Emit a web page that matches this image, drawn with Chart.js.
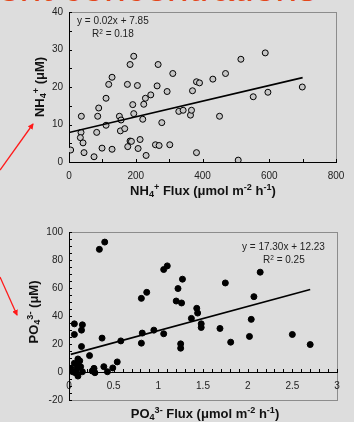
<!DOCTYPE html>
<html>
<head>
<meta charset="utf-8">
<script src="https://cdn.jsdelivr.net/npm/chart.js@4.4.0/dist/chart.umd.min.js"></script>
<style>
  html, body { margin: 0; padding: 0; background: #dddddd; }
  #wrap { position: relative; width: 354px; height: 422px; overflow: hidden;
          font-family: Arial, "Liberation Sans", sans-serif; }
  canvas { position: absolute; left: 0; }
  .txt { position: absolute; white-space: nowrap; color: #222; line-height: 1; }
  .eq { font-size: 10px; }
  .ttl { font-size: 13px; font-weight: bold; color: #111; }
  .ttl sub { font-size: 0.7em; vertical-align: -0.25em; }
  .ttl sup { font-size: 0.7em; vertical-align: 0.5em; }
  .eq sup { font-size: 0.65em; vertical-align: 0.5em; }
  .rot { transform: translate(-50%, -50%) rotate(-90deg); }
  .hc { transform: translate(-50%, -50%); }
  #title { position: absolute; left: -2px; top: -32px; font-size: 39px; line-height: 39px;
           color: #e4461a; white-space: nowrap; }
</style>
</head>
<body>
<div id="wrap">
  <div id="title">ent concentrations</div>

  <canvas id="nhChart" width="354" height="200" style="top:0"></canvas>
  <canvas id="poChart" width="354" height="212" style="top:210px"></canvas>

  <div class="txt eq" style="left:77px;top:16px">y = 0.02x + 7.85</div>
  <div class="txt eq" style="left:92px;top:29px">R<sup>2</sup> = 0.18</div>
  <div class="txt ttl hc" style="left:203px;top:191px">NH<sub>4</sub><sup>+</sup> Flux (&mu;mol m<sup>-2</sup> h<sup>-1</sup>)</div>
  <div class="txt ttl rot" style="left:40px;top:87px">NH<sub>4</sub><sup>+</sup> (&mu;M)</div>

  <div class="txt eq" style="left:242px;top:242px">y = 17.30x + 12.23</div>
  <div class="txt eq" style="left:263px;top:255px">R<sup>2</sup> = 0.25</div>
  <div class="txt ttl hc" style="left:205px;top:414px">PO<sub>4</sub><sup>3-</sup> Flux (&mu;mol m<sup>-2</sup> h<sup>-1</sup>)</div>
  <div class="txt ttl rot" style="left:34px;top:312px">PO<sub>4</sub><sup>3-</sup> (&mu;M)</div>

  <svg width="354" height="422" style="position:absolute;left:0;top:0">
    <defs>
      <marker id="ah" markerWidth="6" markerHeight="6" refX="5" refY="3" orient="auto" markerUnits="userSpaceOnUse">
        <path d="M0,0 L6,3 L0,6 z" fill="#ff1a1a"/>
      </marker>
    </defs>
    <line x1="0" y1="170" x2="33" y2="124" stroke="#ff1a1a" stroke-width="1.3" marker-end="url(#ah)"/>
    <line x1="0" y1="277" x2="17" y2="315" stroke="#ff1a1a" stroke-width="1.3" marker-end="url(#ah)"/>
  </svg>
</div>

<script>
// NH4+ panel: flux vs concentration
const nhFlux = [5, 37, 36, 34, 42, 45, 75, 83, 86, 89, 99, 111, 111, 119, 129, 129, 151, 156, 154, 167,
  175, 183, 194, 191, 194, 183, 187, 176, 205, 207, 213, 221, 224, 229, 231, 245, 259, 264, 267, 270,
  278, 294, 302, 311, 329, 342, 364, 367, 370, 382, 391, 382, 431, 451, 469, 507, 515, 552, 588, 596, 699];
const nhConc = [3.2, 12.2, 7.9, 6.5, 5.1, 2.5, 1.4, 7.9, 12.2, 14.4, 3.7, 9.8, 17.0, 20.7, 22.6, 3.4, 12.2, 11.2, 8.3, 8.9,
  20.7, 26.0, 28.2, 15.3, 12.9, 5.6, 5.5, 4.1, 20.4, 3.6, 6.0, 11.4, 15.4, 17.0, 1.75, 17.9, 4.6, 20.3, 26.0, 4.4,
  10.5, 18.8, 4.6, 23.6, 13.5, 13.8, 12.5, 13.8, 19.0, 21.4, 21.1, 2.5, 22.1, 12.2, 23.6, 0.5, 27.4, 17.4, 29.1, 18.6, 20.0];
const nhTrendX = [0, 700];
const nhTrendY = [7.85, 22.5];

// PO4 3- panel
const poFlux = [0.34, 0.40, 1.06, 1.10, 1.27, 1.22, 0.87, 0.81, 1.20, 1.26, 1.43, 1.44, 1.37, 1.48, 1.48, 1.69, 1.75, 2.07, 2.14, 2.04,
  2.02, 1.81, 1.25, 1.25, 1.06, 0.95, 0.82, 0.81, 2.50, 2.70, 0.58, 0.37, 0.06, 0.15, 0.14, 0.06, 0.14, 0.23, 0.10, 0.54,
  0.49, 0.39, 0.43, 0.28, 0.26, 0.29, 0.02, 0.04, 0.09, 0.10, 0.13, 0.07, 0.10, 0.15, 0.06, 0.12];
const poConc = [87.6, 92.8, 73.2, 75.8, 66.3, 59.6, 56.9, 52.6, 50.7, 49.3, 45.5, 42.1, 38.3, 34.4, 31.8, 31.1, 63.6, 53.8, 71.3, 37.6,
  25.4, 21.3, 20.1, 17.0, 27.3, 29.9, 27.8, 20.6, 26.8, 19.6, 22.2, 24.2, 34.4, 33.7, 29.9, 26.8, 18.2, 11.7, 9.3, 7.2,
  2.9, 3.8, 0.2, 2.6, 0.7, -0.5, 2.6, 0.2, 2.6, 4.5, 3.8, -0.5, -2.9, 0.2, 6.2, 8.0];
const poTrendX = [0.02, 2.7];
const poTrendY = [12.6, 58.9];

const FONT = 'Arial, "Liberation Sans", sans-serif';
Chart.defaults.font.family = FONT;
Chart.defaults.color = '#222';

const zip = (xs, ys) => xs.map((x, i) => ({ x, y: ys[i] }));

// gray frame on the plot area + short inward tick marks
const frameTicks = {
  id: 'frameTicks',
  beforeDraw(chart) {
    const { ctx, chartArea: a } = chart;
    ctx.save();
    ctx.strokeStyle = '#8c8c8c';
    ctx.lineWidth = 1;
    ctx.strokeRect(Math.round(a.left) + 0.5, Math.round(a.top) + 0.5,
      Math.round(a.right - a.left), Math.round(a.bottom - a.top));
    ctx.restore();
  },
  beforeDatasetsDraw(chart) {
    const { ctx, chartArea: a, scales: { x, y } } = chart;
    const pos = x.options.position;
    const y0 = typeof pos === 'object' ? Math.round(y.getPixelForValue(pos.y)) : Math.round(a.bottom);
    const x0 = Math.round(a.left);
    ctx.save();
    ctx.strokeStyle = '#000';
    ctx.lineWidth = 1;
    ctx.beginPath();
    x.ticks.forEach(t => {
      const px = Math.round(x.getPixelForValue(t.value)) + 0.5;
      ctx.moveTo(px, y0);
      ctx.lineTo(px, y0 - 3);
    });
    y.ticks.forEach(t => {
      const py = Math.round(y.getPixelForValue(t.value)) + 0.5;
      ctx.moveTo(x0, py);
      ctx.lineTo(x0 + 3, py);
    });
    ctx.stroke();
    ctx.restore();
  }
};

function makeChart(id, cfg) {
  const ctx = document.getElementById(id).getContext('2d');
  return new Chart(ctx, {
    type: 'scatter',
    data: {
      datasets: [
        {
          type: 'line',
          data: zip(cfg.trendX, cfg.trendY),
          borderColor: '#000',
          borderWidth: 1.6,
          pointRadius: 0,
          fill: false,
        },
        {
          data: zip(cfg.xs, cfg.ys),
          pointRadius: 3,
          pointBorderWidth: 1,
          pointBorderColor: '#000',
          pointBackgroundColor: cfg.pointFill,
        },
      ],
    },
    options: {
      responsive: false,
      animation: false,
      events: [],
      layout: { padding: cfg.padding },
      plugins: { legend: { display: false }, tooltip: { enabled: false } },
      scales: {
        x: {
          type: 'linear',
          position: cfg.xPosition,
          min: cfg.xMin, max: cfg.xMax,
          grid: { display: false, drawTicks: cfg.xTickLen > 0, tickLength: cfg.xTickLen },
          border: { display: true, color: '#000', width: 1 },
          ticks: {
            stepSize: cfg.xStep, autoSkip: false, maxRotation: 0, padding: cfg.xPad,
            font: { size: 10 }, color: '#222',
            callback: cfg.xLabel,
          },
          afterFit: s => { s.height = cfg.xHeight; },
        },
        y: {
          type: 'linear',
          min: cfg.yMin, max: cfg.yMax,
          grid: { display: false, drawTicks: false },
          border: { display: true, color: '#000', width: 1 },
          ticks: {
            stepSize: cfg.yStep, autoSkip: false, padding: 6,
            font: { size: 10 }, color: '#222',
            callback: cfg.yLabel,
          },
          afterFit: s => { s.width = 69; },
        },
      },
    },
    plugins: [frameTicks],
  });
}

makeChart('nhChart', {
  xs: nhFlux, ys: nhConc, trendX: nhTrendX, trendY: nhTrendY,
  pointFill: '#c6c6c6',
  padding: { left: 0, top: 10, right: 18, bottom: 0 },
  xPosition: 'bottom', xMin: 0, xMax: 800, xStep: 100, xPad: 8, xTickLen: 0, xHeight: 38,
  xLabel: v => (v % 200 === 0 ? String(v) : ''),
  yMin: 0, yMax: 40, yStep: 5,
  yLabel: v => (v % 10 === 0 ? String(v) : ''),
});

// x axis crosses at y = 0, so it reserves no room: bottom padding sets the frame
makeChart('poChart', {
  xs: poFlux, ys: poConc, trendX: poTrendX, trendY: poTrendY,
  pointFill: '#000',
  padding: { left: 0, top: 22, right: 17, bottom: 22 },
  xPosition: { y: 0 }, xMin: 0, xMax: 3, xStep: 0.1, xPad: 0, xTickLen: 8, xHeight: 22,
  xLabel: v => { const r = Math.round(v * 10); return r % 5 === 0 ? String(r / 10) : ''; },
  yMin: -20, yMax: 100, yStep: 5,
  yLabel: v => (v % 20 === 0 ? String(v) : ''),
});
</script>
</body>
</html>
